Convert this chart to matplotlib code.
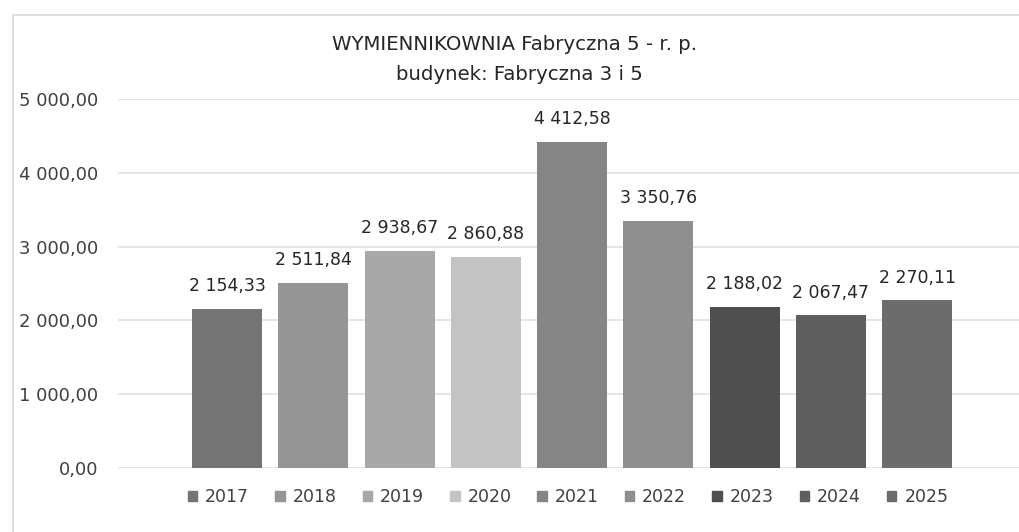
import matplotlib
matplotlib.use('Agg')
import matplotlib.pyplot as plt
from matplotlib.patches import Rectangle

# data
years = ['2017', '2018', '2019', '2020', '2021', '2022', '2023', '2024', '2025']
values = [2154.33, 2511.84, 2938.67, 2860.88, 4412.58, 3350.76, 2188.02, 2067.47, 2270.11]
colors = ['#747474', '#959595', '#a8a8a8', '#c3c3c3', '#858585',
          '#8f8f8f', '#4f4f4f', '#5f5f5f', '#6c6c6c']
title_lines = ['WYMIENNIKOWNIA Fabryczna 5 - r. p.', 'budynek: Fabryczna 3 i 5']
y_ticks = [0, 1000, 2000, 3000, 4000, 5000]


def pl_format(v):
    return f'{v:,.2f}'.replace(',', ' ').replace('.', ',')


plt.rcParams['font.family'] = ['DejaVu Sans']

fig = plt.figure(figsize=(10.19, 5.32), dpi=100)
ax = fig.add_axes([118 / 1019, 64 / 532, 1 - 118 / 1019, 369 / 532])

# outer chart border (light grey, cropped on right/bottom)
fig.patches.append(Rectangle((13 / 1019, -0.1), 1.2, 1.1 - 15 / 532,
                             transform=fig.transFigure, fill=False,
                             edgecolor='#d9d9d9', linewidth=1.2))

x = list(range(len(years)))
bars = ax.bar(x, values, width=0.81, color=colors, label=years, zorder=3)

labels = [pl_format(v) for v in values]
ax.bar_label(bars, labels=labels, padding=10, fontsize=12.5, color='#262626')

ax.set_xlim(-1.264, 9.18)
ax.set_ylim(0, 5000)
ax.set_yticks(y_ticks)
ax.set_yticklabels([pl_format(v) for v in y_ticks], fontsize=13, color='#404040')
ax.set_xticks([])
ax.tick_params(axis='y', length=0, pad=14)
ax.grid(axis='y', color='#dedede', linewidth=1.1, zorder=0)
for s in ax.spines.values():
    s.set_visible(False)

fig.text(514 / 1019, 1 - 45 / 532, title_lines[0], ha='center', va='center',
         fontsize=14.2, color='#262626')
fig.text(519 / 1019, 1 - 74 / 532, title_lines[1], ha='center', va='center',
         fontsize=14.2, color='#262626')

handles = [Rectangle((0, 0), 1, 1, color=c) for c in colors]
fig.legend(handles, years, loc='center', bbox_to_anchor=(568 / 1019, 1 - 497 / 532),
           ncol=len(years), frameon=False, fontsize=12.5, handlelength=0.55,
           handleheight=0.55, handletextpad=0.45, columnspacing=1.5,
           labelcolor='#404040')

fig.savefig('out.png', dpi=100, facecolor='white')
